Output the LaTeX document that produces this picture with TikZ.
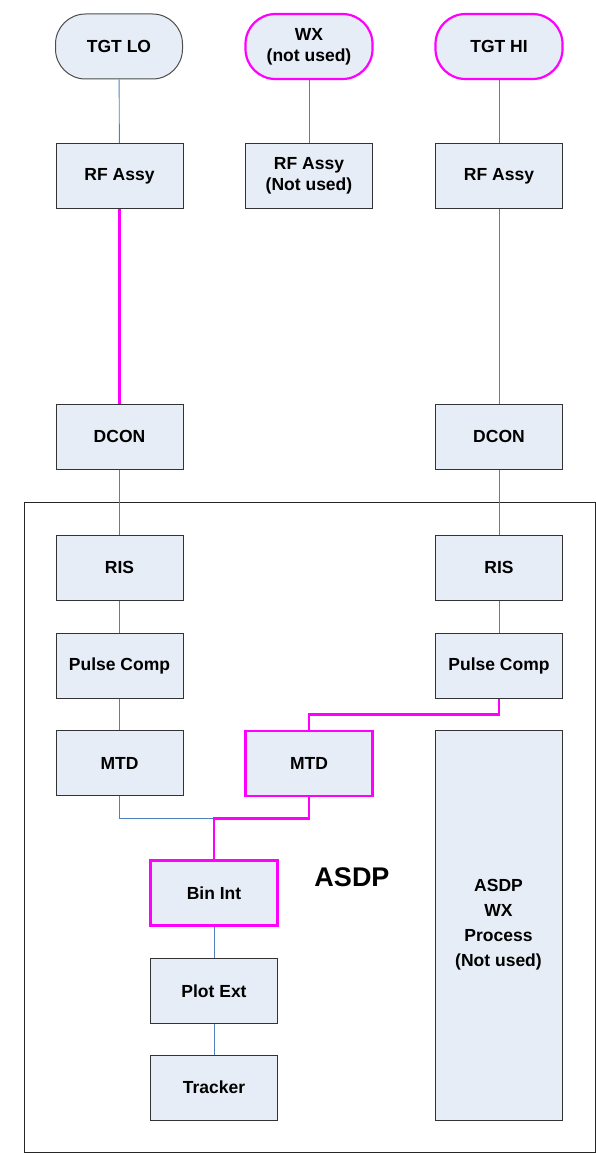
\documentclass[tikz,border=0pt]{standalone}
\usepackage{fontspec}
\setmainfont{Liberation Sans}
\usetikzlibrary{positioning, calc}
\definecolor{BoxFill}{RGB}{230,237,247}
\definecolor{LinkBlue}{RGB}{79,129,189}
\definecolor{HotPink}{RGB}{255,0,255}

\begin{document}
\begin{tikzpicture}[x=1pt, y=-1pt,
    blk/.style={draw=black!80, fill=BoxFill, line width=1pt, minimum width=127pt, minimum height=65pt,
                inner sep=0pt, align=center, font=\bfseries\fontsize{17.5}{21}\selectfont},
    term/.style={blk, rounded corners=30pt},
    hotblk/.style={draw=HotPink, line width=2.2pt},
    link/.style={LinkBlue, line width=0.9pt},
    hot/.style={HotPink, line width=2.2pt}]
    \useasboundingbox (0,0) rectangle (596,1153);
    % ASDP frame
    \draw[black!85, line width=1pt] (24,502) rectangle (595,1152);
    \node[font=\bfseries\fontsize{27}{30}\selectfont] (asdp) at (352,877) {ASDP};
    % Sources
    \node[term, draw=black!70] (tgtlo) at (119,46.5) {TGT LO};
    \node[term, hotblk] (wx) at (309,46.5) {WX\\(not used)};
    \node[term, hotblk] (tgthi) at (499,46.5) {TGT HI};
    % RF assemblies
    \node[blk] (rflo) at (119.5,176) {RF Assy};
    \node[blk] (rfwx) at (309,176) {RF Assy\\(Not used)};
    \node[blk] (rfhi) at (499,176) {RF Assy};
    % DCON
    \node[blk] (dclo) at (119.5,436.5) {DCON};
    \node[blk] (dchi) at (499,436.5) {DCON};
    % Inside ASDP
    \node[blk] (rislo) at (119.5,567.5) {RIS};
    \node[blk] (rishi) at (499,567.5) {RIS};
    \node[blk] (pclo) at (119.5,665.5) {Pulse Comp};
    \node[blk] (pchi) at (499,665.5) {Pulse Comp};
    \node[blk] (mtdlo) at (119.5,763) {MTD};
    \node[blk, hotblk] (mtdhi) at (309,763.5) {MTD};
    \node[blk, hotblk] (binint) at (214,893) {Bin Int};
    \node[blk] (plotext) at (214,991) {Plot Ext};
    \node[blk] (tracker) at (214,1087.5) {Tracker};
    \node[blk, minimum height=390pt, font=\bfseries\fontsize{17.5}{25}\selectfont] (wxproc) at (498.5,925)
        {ASDP\\WX\\Process\\(Not used)};
    % Connectors
    \draw[link] (tgtlo) -- (rflo);
    \draw[link] (wx) -- (rfwx);
    \draw[link] (tgthi) -- (rfhi);
    \draw[hot] (rflo) -- (dclo);
    \draw[link] (rfhi) -- (dchi);
    \draw[link] (dclo) -- (rislo);
    \draw[link] (dchi) -- (rishi);
    \draw[link] (rislo) -- (pclo);
    \draw[link] (rishi) -- (pchi);
    \draw[link] (pclo) -- (mtdlo);
    \draw[hot] (pchi.south) -- ++(0,16) -| (mtdhi.north);
    \coordinate (jn) at ($(binint.north)+(0,-41)$);
    \draw[link] (mtdlo.south) |- (jn);
    \draw[hot] (mtdhi.south) |- (jn) -- (binint.north);
    \draw[link] (binint) -- (plotext);
    \draw[link] (plotext) -- (tracker);
\end{tikzpicture}
\end{document}
